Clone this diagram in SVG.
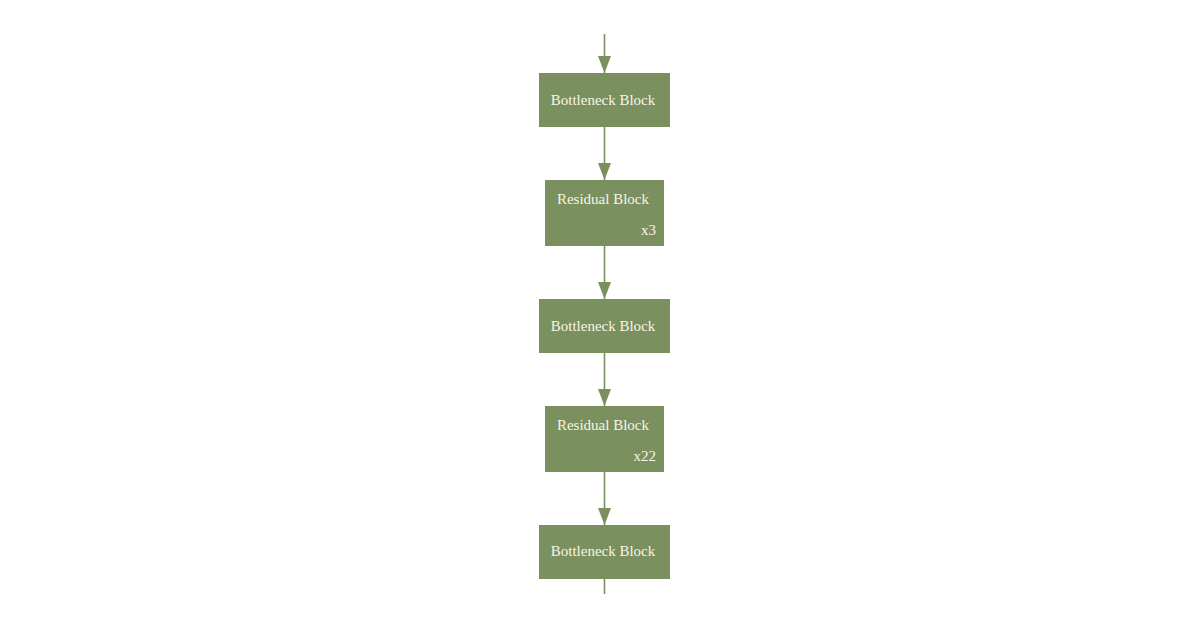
<svg xmlns="http://www.w3.org/2000/svg" width="1200" height="630" viewBox="0 0 1200 630">
<style>
.box{fill:#7a905f;}
.t{font-family:"Liberation Serif",serif;font-size:15px;fill:#f5f5e6;}
.e{stroke:#7a905f;stroke-width:1.6;fill:none;}
</style>
<defs>
<marker id="arr" markerWidth="17" markerHeight="13" refX="17" refY="6.5" orient="auto" markerUnits="userSpaceOnUse" viewBox="0 0 17 13">
<path d="M0,0 L17,6.5 L0,13 Z" fill="#7a905f"/>
</marker>
</defs>
<rect width="1200" height="630" fill="#ffffff"/>
<g id="connectors">
<line class="e" x1="604.5" y1="34" x2="604.5" y2="73" marker-end="url(#arr)"/>
<line class="e" x1="604.5" y1="127" x2="604.5" y2="180" marker-end="url(#arr)"/>
<line class="e" x1="604.5" y1="246" x2="604.5" y2="299" marker-end="url(#arr)"/>
<line class="e" x1="604.5" y1="353" x2="604.5" y2="406" marker-end="url(#arr)"/>
<line class="e" x1="604.5" y1="472" x2="604.5" y2="525" marker-end="url(#arr)"/>
<line class="e" x1="604.5" y1="579" x2="604.5" y2="594"/>
</g>
<g id="b1"><rect class="box" x="539" y="73" width="131" height="54"/><text class="t" x="603" y="105" text-anchor="middle">Bottleneck Block</text></g>
<g id="r1"><rect class="box" x="545" y="180" width="119" height="66"/><text class="t" x="603" y="204" text-anchor="middle">Residual Block</text><text class="t" x="656" y="235" text-anchor="end">x3</text></g>
<g id="b2"><rect class="box" x="539" y="299" width="131" height="54"/><text class="t" x="603" y="331" text-anchor="middle">Bottleneck Block</text></g>
<g id="r2"><rect class="box" x="545" y="406" width="119" height="66"/><text class="t" x="603" y="430" text-anchor="middle">Residual Block</text><text class="t" x="656" y="461" text-anchor="end">x22</text></g>
<g id="b3"><rect class="box" x="539" y="525" width="131" height="54"/><text class="t" x="603" y="556" text-anchor="middle">Bottleneck Block</text></g>
</svg>
